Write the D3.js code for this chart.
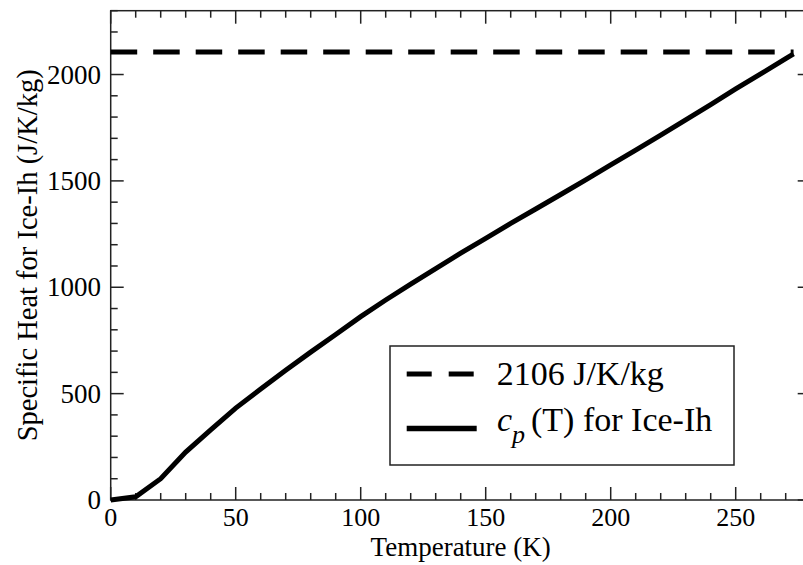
<!DOCTYPE html>
<html>
<head>
<meta charset="utf-8">
<script src="https://cdn.jsdelivr.net/npm/d3@7"></script>
<style>
  html, body { margin: 0; padding: 0; background: #fff; }
  svg { display: block; }
</style>
</head>
<body>
<script>
// ---- data ----
const temperatures = [0, 10, 20, 30, 40, 50, 60, 70, 80, 90, 100, 110, 120, 130, 140, 150,
  160, 170, 180, 190, 200, 210, 220, 230, 240, 250, 260, 270, 273.15];
const cpValues = [0, 15, 100, 225, 330, 432, 522, 610, 695, 778, 862, 940, 1015, 1088, 1160, 1230,
  1300, 1368, 1436, 1505, 1575, 1645, 1715, 1787, 1858, 1932, 2003, 2075, 2097];
const constantCp = 2106;
const constantRange = [0, 273.15];
const xTicks = [0, 50, 100, 150, 200, 250];
const yTicks = [0, 500, 1000, 1500, 2000];
const legendLabels = ["2106 J/K/kg", "(T) for Ice-Ih"];
const xTitle = "Temperature (K)";
const yTitle = "Specific Heat for Ice-Ih (J/K/kg)";

// ---- layout ----
const W = 803, H = 565;
const mLeft = 110.7, mRight = 810.7, mTop = 10.7, mBottom = 500;
const FONT = "'Liberation Serif', 'DejaVu Serif', serif";

const svg = d3.select("body").append("svg").attr("width", W).attr("height", H)
  .attr("font-family", FONT);

const x = d3.scaleLinear().domain([0, 280]).range([mLeft, mRight]);
const y = d3.scaleLinear().domain([0, 2300]).range([mBottom, mTop]);

const xMinor = d3.range(0, 281, 10);
const yMinor = d3.range(0, 2301, 100);

const tickStroke = "#222";
function ticks(g, axis, vals, len) {
  g.selectAll(null).data(vals).enter().append("line")
    .attr("stroke", tickStroke).attr("stroke-width", 1.5)
    .each(function (v) {
      const s = d3.select(this);
      if (axis === "bottom") s.attr("x1", x(v)).attr("x2", x(v)).attr("y1", mBottom).attr("y2", mBottom - len);
      if (axis === "top") s.attr("x1", x(v)).attr("x2", x(v)).attr("y1", mTop).attr("y2", mTop + len);
      if (axis === "left") s.attr("y1", y(v)).attr("y2", y(v)).attr("x1", mLeft).attr("x2", mLeft + len);
      if (axis === "right") s.attr("y1", y(v)).attr("y2", y(v)).attr("x1", mRight).attr("x2", mRight - len);
    });
}
const tg = svg.append("g");
["bottom", "top"].forEach(a => {
  ticks(tg, a, xMinor.filter(v => v % 50 !== 0), 7);
  ticks(tg, a, d3.range(0, 281, 50), 13);
});
["left", "right"].forEach(a => {
  ticks(tg, a, yMinor.filter(v => v % 500 !== 0), 7);
  ticks(tg, a, d3.range(0, 2301, 500), 13);
});

// frame
svg.append("rect").attr("x", mLeft).attr("y", mTop)
  .attr("width", mRight - mLeft).attr("height", mBottom - mTop)
  .attr("fill", "none").attr("stroke", tickStroke).attr("stroke-width", 1.5);

// tick labels
svg.append("g").selectAll("text").data(xTicks).enter().append("text")
  .attr("font-family", FONT)
  .attr("x", d => x(d)).attr("y", 526).attr("text-anchor", "middle")
  .attr("font-size", 26).text(d => d);
svg.append("g").selectAll("text").data(yTicks).enter().append("text")
  .attr("font-family", FONT)
  .attr("x", 101).attr("y", d => y(d) + 9).attr("text-anchor", "end")
  .attr("font-size", 27).text(d => d);

// axis titles
svg.append("text").attr("font-family", FONT)
  .attr("x", (mLeft + mRight) / 2).attr("y", 556).attr("text-anchor", "middle")
  .attr("font-size", 27).text(xTitle);
svg.append("text").attr("font-family", FONT)
  .attr("transform", `translate(37,${(mTop + mBottom) / 2}) rotate(-90)`)
  .attr("text-anchor", "middle").attr("font-size", 28.5).text(yTitle);

// data lines
const line = d3.line().x(d => x(d[0])).y(d => y(d[1]));
svg.append("path")
  .datum(constantRange.map(t => [t, constantCp]))
  .attr("d", line).attr("fill", "none").attr("stroke", "#000")
  .attr("stroke-width", 5).attr("stroke-dasharray", "26.5,16");
svg.append("path")
  .datum(temperatures.map((t, i) => [t, cpValues[i]]))
  .attr("d", line).attr("fill", "none").attr("stroke", "#000")
  .attr("stroke-width", 5).attr("stroke-linejoin", "miter");

// legend
const lg = svg.append("g");
lg.append("rect").attr("x", 390).attr("y", 346).attr("width", 344).attr("height", 119)
  .attr("fill", "#fff").attr("stroke", tickStroke).attr("stroke-width", 1.5);
lg.append("line").attr("x1", 406.7).attr("x2", 474).attr("y1", 374).attr("y2", 374)
  .attr("stroke", "#000").attr("stroke-width", 5).attr("stroke-dasharray", "25,17");
lg.append("line").attr("x1", 406.7).attr("x2", 476.7).attr("y1", 428.5).attr("y2", 428.5)
  .attr("stroke", "#000").attr("stroke-width", 5.5);
lg.append("text").attr("font-family", FONT)
  .attr("x", 496.7).attr("y", 385).attr("font-size", 34).text(legendLabels[0]);
const t2 = lg.append("text").attr("font-family", FONT)
  .attr("x", 497).attr("y", 431).attr("font-size", 34);
t2.append("tspan").attr("font-style", "italic").text("c");
t2.append("tspan").attr("font-style", "italic").attr("font-size", 26).attr("dy", 12).text("p");
t2.append("tspan").attr("x", 531).attr("dy", -12).text(legendLabels[1]);
</script>
</body>
</html>
